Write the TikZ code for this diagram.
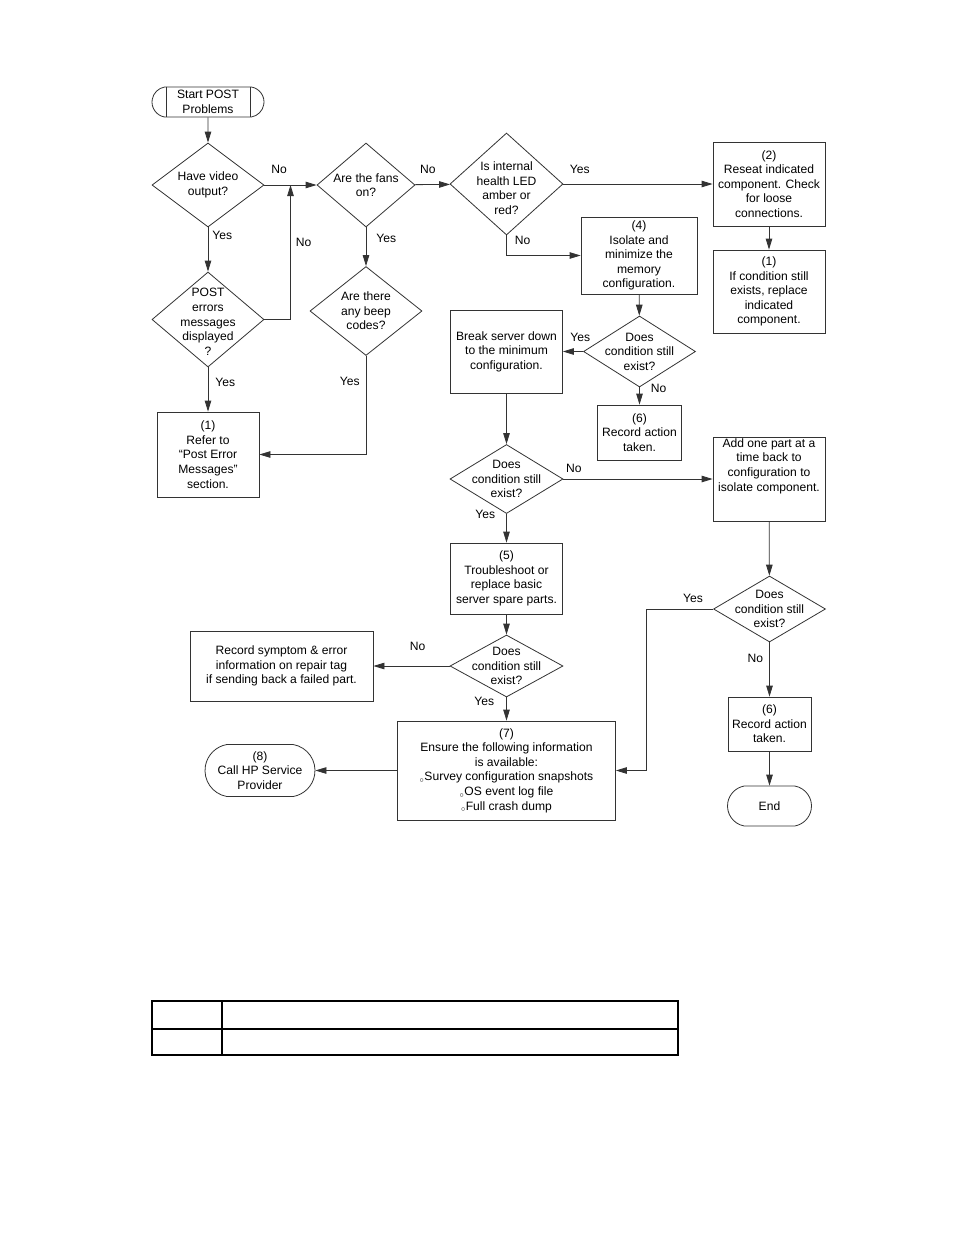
\documentclass[tikz,border=0pt]{standalone}
\usepackage{fontspec}
\setmainfont{Liberation Sans}
\usetikzlibrary{arrows.meta,calc,positioning,shapes.geometric,shapes.misc}
\newcommand\fcfont{\fontsize{12.1}{14.6}\selectfont}
\newcommand\bul{${}_{\circ}$}

\begin{document}
\begin{tikzpicture}[x=1pt,y=-1pt,>={Triangle[length=11pt,width=6.5pt]},
  every node/.style={font=\fcfont},
  wire/.style={draw=black!80,line width=0.8pt},
  proc/.style={wire,rectangle,align=center,inner sep=0pt},
  dec/.style={wire,diamond,align=center,inner sep=-40pt},
  term/.style={wire,rounded rectangle,rounded rectangle arc length=160,align=center,inner sep=0pt},
  lbl/.style={inner sep=0pt}]
\fill[white] (0,0) rectangle (954,1235);
\useasboundingbox (0,0) rectangle (954,1235);

% left column
\node[term,minimum width=112,minimum height=30] (start) at (208,102) {Start POST\\Problems};
\draw[wire] ($(start.north)+(-42,0)$) -- ($(start.south)+(-42,0)$);
\draw[wire] ($(start.north)+(42,0)$) -- ($(start.south)+(42,0)$);
\node[dec,minimum width=112,minimum height=84] (video) at (208,185) {Have video\\output?};
\node[dec,minimum width=112,minimum height=95] (errs) at (208,319.5) {\rule{0pt}{13pt}POST\\errors\\messages\\displayed\\?};
\node[proc,minimum width=102,minimum height=85] (refer) at (208,454.5) {(1)\\Refer to\\“Post Error\\Messages”\\section.};
\node[dec,minimum width=98,minimum height=84] (fans) at (366,185) {Are the fans\\on?};
\node[dec,minimum width=112,minimum height=89] (beep) at (366,311) {Are there\\any beep\\codes?};
\node[proc,minimum width=183,minimum height=70] (tag) at (281.5,666) {Record symptom \& error\\information on repair tag\\if sending back a failed part.};
\node[term,minimum width=110,minimum height=52] (hpcall) at (260,770.5) {(8)\\Call HP Service\\Provider};

% middle column
\node[dec,minimum width=113,minimum height=102] (led) at (506.5,184) {\rule{0pt}{17pt}Is internal\\health LED\\amber or\\red?};
\node[proc,minimum width=112,minimum height=83] (minconf) at (506.5,351.5) {Break server down\\to the minimum\\configuration.};
\node[dec,minimum width=113,minimum height=69] (exist2) at (506.5,479) {Does\\condition still\\exist?};
\node[proc,minimum width=112,minimum height=71] (spares) at (506.5,578.5) {(5)\\Troubleshoot or\\replace basic\\server spare parts.};
\node[dec,minimum width=113,minimum height=62] (exist4) at (506.5,666) {Does\\condition still\\exist?};
\node[proc,minimum width=218,minimum height=99] (ensure) at (506.5,770.5) {(7)\\Ensure the following information\\is available:\\\bul Survey configuration snapshots\\\bul OS event log file\\\bul Full crash dump};
\node[proc,minimum width=116,minimum height=77] (memory) at (639,255.5) {(4)\\Isolate and\\minimize the\\memory\\configuration.};
\node[dec,minimum width=112,minimum height=71] (exist1) at (639.5,351.5) {Does\\condition still\\exist?};
\node[proc,minimum width=84,minimum height=55] (record1) at (639.5,432.5) {(6)\\Record action\\taken.};

% right column
\node[proc,minimum width=112,minimum height=84] (reseat) at (769,184) {(2)\\Reseat indicated\\component. Check\\for loose\\connections.};
\node[proc,minimum width=112,minimum height=83] (replace) at (769,291.5) {(1)\\If condition still\\exists, replace\\indicated\\component.};
\node[proc,minimum width=112,minimum height=84] (addpart) at (769,479) {};
\node[align=center] (addtxt) at (769,466) {Add one part at a\\time back to\\configuration to\\isolate component.};
\node[dec,minimum width=112,minimum height=66] (exist3) at (769.5,609) {Does\\condition still\\exist?};
\node[proc,minimum width=83,minimum height=54] (record2) at (769.5,724) {(6)\\Record action\\taken.};
\node[term,minimum width=84,minimum height=40] (stop) at (769.5,806) {End};

% connectors
\coordinate (join) at ($(video.east)!.5!(fans.west)$);
\draw[wire,->] (start) -- (video);
\draw[wire,->] (video) -- node[lbl,pos=.18,right=4pt] {Yes} (errs);
\draw[wire,->] (video) -- node[lbl,pos=.28,above=10.5pt] {No} (fans);
\draw[wire,->] (errs.east) -| node[lbl,pos=.785,right=5pt] {No} (join);
\draw[wire,->] (errs) -- node[lbl,pos=.33,right=7pt] {Yes} (refer);
\draw[wire,->] (fans) -- node[lbl,pos=.37,above=10.5pt] {No} (led);
\draw[wire,->] (fans) -- node[lbl,pos=.28,right=10pt] {Yes} (beep);
\draw[wire,->] (beep.south) |- node[lbl,pos=.13,left=6pt] {Yes} (refer.east);
\draw[wire,->] (led) -- node[lbl,pos=.11,above=9.5pt] {Yes} (reseat);
\draw[wire,->] (led.south) |- node[lbl,pos=.12,right=8pt] {No} (memory.west);
\draw[wire,->] (reseat) -- (replace);
\draw[wire,->] (memory) -- (exist1);
\draw[wire,->] (exist1) -- node[lbl,pos=.14,above=9.5pt] {Yes} (minconf);
\draw[wire,->] (exist1) -- node[lbl,pos=.05,right=11pt] {No} (record1);
\draw[wire,->] (minconf) -- (exist2);
\draw[wire,->] (exist2) -- node[lbl,pos=.07,above=5.5pt] {No} (addpart);
\draw[wire,->] (exist2) -- node[lbl,pos=.03,left=11pt] {Yes} (spares);
\draw[wire,->] (addpart) -- (exist3);
\draw[wire,->] (exist3.west) -- node[lbl,pos=.3,above=5.5pt] {Yes} ++(-67,0) |- (ensure.east);
\draw[wire,->] (exist3) -- node[lbl,pos=.29,left=6pt] {No} (record2);
\draw[wire,->] (record2) -- (stop);
\draw[wire,->] (spares) -- (exist4);
\draw[wire,->] (exist4) -- node[lbl,pos=.42,above=14.5pt] {No} (tag);
\draw[wire,->] (exist4) -- node[lbl,pos=.17,left=12pt] {Yes} (ensure);
\draw[wire,->] (ensure) -- (hpcall);

% table below
\draw[line width=1.5pt] (152,1001) rectangle (678,1055);
\draw[line width=1.5pt] (152,1029) -- (678,1029);
\draw[line width=1.5pt] (222,1001) -- (222,1055);
\end{tikzpicture}
\end{document}
